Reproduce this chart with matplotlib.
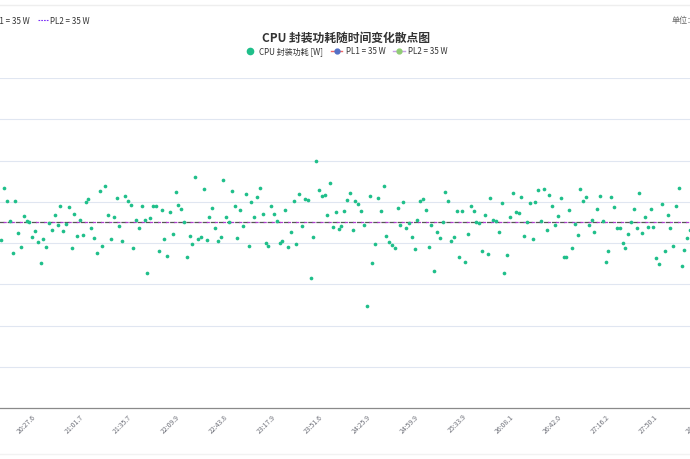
import matplotlib
matplotlib.use("Agg")
import matplotlib.pyplot as plt
from matplotlib.lines import Line2D

plt.rcParams['font.family'] = ['Noto Sans CJK SC', 'DejaVu Sans']

# ---- data (W) ----
power_w = [
    34.15, 36.67, 36.04, 35.07, 33.53, 36.04, 34.49, 33.81, 35.32, 35.07,
    35.02, 34.31, 34.60, 34.05, 33.03, 34.20, 33.82, 34.99, 34.63, 35.37,
    34.87, 35.81, 34.60, 34.91, 35.73, 33.74, 35.39, 34.34, 35.12, 34.40,
    35.97, 36.12, 34.71, 34.23, 33.50, 36.54, 33.87, 36.75, 35.34, 34.20,
    35.26, 36.17, 34.84, 34.11, 36.27, 36.04, 35.84, 33.74, 35.13, 34.71,
    35.81, 35.13, 32.53, 35.21, 35.81, 35.78, 33.61, 35.62, 34.21, 33.36,
    35.52, 34.45, 36.49, 35.83, 35.64, 35.03, 33.32, 34.36, 33.97, 37.19,
    34.21, 34.29, 36.62, 34.15, 35.26, 35.68, 34.71, 34.08, 34.28, 37.07,
    35.25, 35.00,
    36.52, 35.81, 34.23, 35.60, 34.81, 36.38, 33.86, 36.00, 35.26, 36.22,
    36.68, 35.41, 33.99, 33.87, 35.80, 35.39, 35.07, 33.99, 34.08, 35.59,
    33.82, 34.53, 36.02, 33.94, 36.38, 34.84, 36.15, 36.10, 32.29, 34.31,
    37.96, 36.56, 36.27, 36.31, 35.34, 36.91, 34.76, 35.50, 34.68, 34.83,
    35.57, 36.09, 36.44, 34.62, 36.02, 35.89, 35.54, 34.87, 30.96, 36.29,
    33.02, 33.97, 36.18, 35.55, 36.78, 34.36, 34.05, 33.92, 33.77, 35.68,
    34.89, 36.00, 34.74, 34.96, 34.28, 33.70, 35.13, 36.04, 36.15, 35.59,
    33.79, 34.89, 32.64, 34.55, 34.24, 35.02, 36.46, 36.05, 34.10, 34.28,
    35.54, 33.34,
    35.57, 33.09, 34.42, 35.80, 35.54, 35.00, 34.96, 33.63, 35.34, 33.48,
    36.20, 35.12, 35.08, 34.52, 35.93, 32.53, 33.42, 35.25, 36.43, 35.50,
    35.44, 36.22, 34.36, 35.00, 35.93, 34.18, 35.97, 36.59, 35.07, 36.62,
    34.65, 36.31, 35.81, 34.89, 35.31, 36.17, 33.32, 33.34, 35.59, 33.76,
    34.94, 34.37, 36.62, 36.04, 36.22, 34.86, 35.13, 34.52, 35.66, 36.27,
    35.05, 33.09, 33.63, 36.25, 35.73, 34.74, 34.71, 34.00, 33.76, 34.45,
    35.00, 35.66, 34.74, 36.43, 34.47, 35.25, 34.79, 35.64, 34.76, 33.29,
    32.98, 35.91, 33.63, 35.34, 34.71, 33.87, 35.80, 36.65, 32.89, 33.66,
    34.23, 34.65,
]
pl1_w = 35
pl2_w = 35

tick_labels = [
    "20:27.6", "21:01.7", "21:35.7", "22:09.9", "22:43.8", "23:17.9",
    "23:51.6", "24:25.9", "24:59.9", "25:33.9", "26:08.1", "26:42.0",
    "27:16.2", "27:50.1", "28:24.1",
]
first_tick = 11
tick_step = 17

# ---- layout (pixels of the 690x460 crop) ----
W, H = 690, 460
px_left, px_right = -20, 720   # plot area runs past the crop
px_top, px_bottom = 79, 409
x0_px, step_px = 1.3, 2.811

green = "#1fbf8a"

fig = plt.figure(figsize=(6.9, 4.6), dpi=100)
ax = fig.add_axes([px_left / W, 1 - px_bottom / H,
                   (px_right - px_left) / W, (px_bottom - px_top) / H])
ax.set_xlim((px_left - x0_px) / step_px, (px_right - x0_px) / step_px)
ax.set_ylim(26, 42)

ax.set_yticks(range(28, 43, 2))
ax.yaxis.grid(True, color="#e0e6f1", lw=0.8)
ax.tick_params(axis="y", length=0, labelleft=False)
for s in ("top", "right", "left"):
    ax.spines[s].set_visible(False)
ax.spines["bottom"].set_color("#8a8a8a")
ax.spines["bottom"].set_linewidth(0.9)

ticks = [first_tick + k * tick_step for k in range(len(tick_labels))]
ax.set_xticks(ticks)
ax.set_xticklabels(tick_labels, rotation=45, ha="right", rotation_mode="anchor",
                   fontsize=5, color="#6e7079")
ax.tick_params(axis="x", length=0, pad=3)

ax.axhline(pl1_w, color="#555555", lw=0.9, ls=(0, (4, 2.5)), zorder=2)
ax.axhline(pl2_w, color="#b03cd0", lw=0.9, ls=(3.2, (2.5, 4)), zorder=2)
ax.scatter(range(len(power_w)), power_w, s=7, color=green, linewidths=0, zorder=3)

# title + legend
fig.text(346 / W, 1 - 38 / H, "CPU 封装功耗随时间变化散点图", ha="center", va="center",
         fontsize=8.5, fontweight="bold", color="#333333")
handles = [
    Line2D([], [], ls="none", marker="o", markersize=4.5, color=green),
    Line2D([], [], color="#ee6666", lw=1, marker="o", markersize=3.5,
           markerfacecolor="#5470c6", markeredgecolor="#5470c6"),
    Line2D([], [], color="#c8a2e8", lw=1, marker="o", markersize=3.5,
           markerfacecolor="#91cc75", markeredgecolor="#91cc75"),
]
fig.legend(handles, ["CPU 封装功耗 [W]", f"PL1 = {pl1_w} W", f"PL2 = {pl2_w} W"],
           loc="center", bbox_to_anchor=(346 / W, 1 - 52 / H), ncol=3, frameon=False,
           fontsize=5.8, handlelength=1.4, columnspacing=1.0, handletextpad=0.4,
           labelcolor="#333333")

# top strip, partly cut off in the screenshot
fig.text(30 / W, 1 - 21 / H, f"PL1 = {pl1_w} W", ha="right", va="center",
         fontsize=5.8, color="#333333")
fig.add_artist(Line2D([38 / W, 48 / W], [1 - 21 / H] * 2, color="#7b2ff7",
                      lw=0.8, ls=(0, (1.5, 1))))
fig.text(50 / W, 1 - 21 / H, f"PL2 = {pl2_w} W", ha="left", va="center",
         fontsize=5.8, color="#333333")
fig.text(672 / W, 1 - 21 / H, "单位：W", ha="left", va="center",
         fontsize=5.8, color="#666666")

fig.add_artist(Line2D([0, 1], [1 - 6 / H] * 2, color="#eeeeee", lw=1))
fig.add_artist(Line2D([0, 1], [1 - 455 / H] * 2, color="#f2f2f2", lw=1))

fig.savefig("out.png", dpi=100)
